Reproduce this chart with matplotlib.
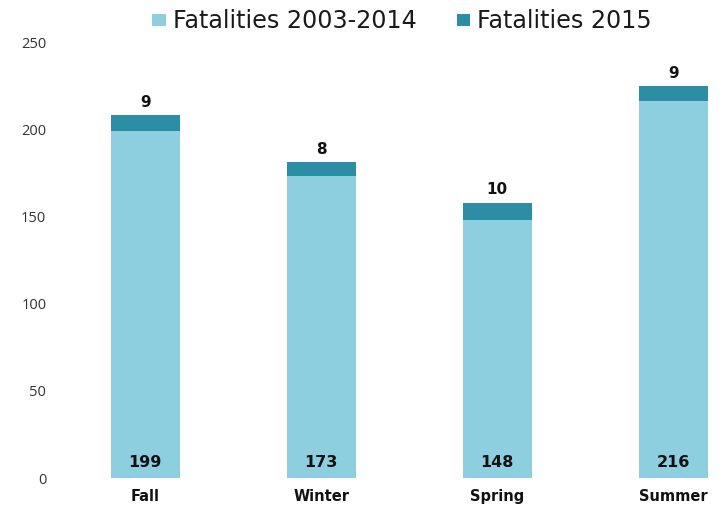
import numpy as np
import matplotlib.pyplot as plt

seasons = ['Fall', 'Winter', 'Spring', 'Summer']
fatal_2003_2014 = [199, 173, 148, 216]
fatal_2015 = [9, 8, 10, 9]
yticks = [0, 50, 100, 150, 200, 250]

light = '#8dcfde'
dark = '#2c8ea4'

fig = plt.figure(figsize=(7.26, 5.08), dpi=100)
ax = fig.add_axes([0.083, 0.059, 0.909, 0.858])

x = np.arange(len(seasons))
w = 0.39
ax.bar(x, fatal_2003_2014, w, color=light, label='Fatalities 2003-2014')
ax.bar(x, fatal_2015, w, bottom=fatal_2003_2014, color=dark, label='Fatalities 2015')

for i in range(len(seasons)):
    top = fatal_2003_2014[i] + fatal_2015[i]
    ax.text(x[i], top + 3, str(fatal_2015[i]), ha='center', va='bottom',
            fontsize=11, fontweight='bold', color='#111111')
    ax.text(x[i], 9, str(fatal_2003_2014[i]), ha='center', va='center',
            fontsize=11.5, fontweight='bold', color='#111111')

ax.set_xlim(-0.483, 3.267)
ax.set_ylim(0, 250)
ax.set_yticks(yticks)
ax.set_yticklabels([str(v) for v in yticks], fontsize=10.5, color='#333333',
                   family='Open Sans')
ax.set_xticks(x)
ax.set_xticklabels(seasons, fontsize=10.5, fontweight='bold', color='#111111')
ax.tick_params(length=0)
ax.tick_params(axis='y', pad=10)
ax.tick_params(axis='x', pad=8)
for s in ax.spines.values():
    s.set_visible(False)

leg = ax.legend(loc='upper left', bbox_to_anchor=(0.107, 1.125), ncol=2,
                frameon=False, handlelength=0.55, handleheight=0.4,
                handletextpad=0.3, columnspacing=1.7,
                prop={'family': 'DejaVu Sans', 'size': 17.2})
for t in leg.get_texts():
    t.set_color('#1a1a1a')

fig.savefig('out.png', dpi=100)
